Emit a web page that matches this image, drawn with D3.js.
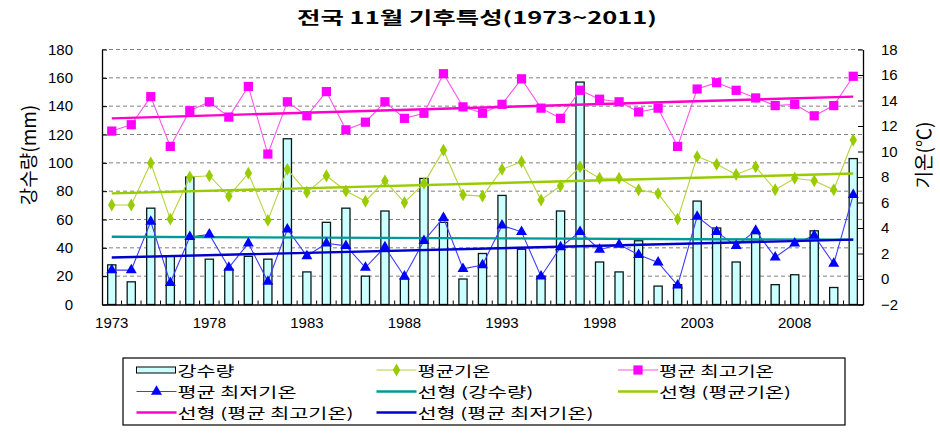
<!DOCTYPE html>
<html><head><meta charset="utf-8">
<script src="https://cdn.jsdelivr.net/npm/d3@7"></script>
<style>
html,body{margin:0;padding:0;background:#fff;}
svg{display:block;}
</style></head>
<body>
<svg id="chart" width="940" height="438"></svg>
<script>
const years = [1973,1974,1975,1976,1977,1978,1979,1980,1981,1982,1983,1984,1985,1986,1987,1988,1989,1990,1991,1992,1993,1994,1995,1996,1997,1998,1999,2000,2001,2002,2003,2004,2005,2006,2007,2008,2009,2010,2011];
const precip = [28,16,68,34,90,32,25,34,32,117,23,58,68,20,66,18,89,58,18,36,77,39,20,66,157,30,23,45,13,14,73,54,30,50,14,21,52,12,103];
const tavg = [5.8,5.8,9.1,4.7,8.0,8.1,6.5,8.3,4.6,8.6,6.8,8.1,6.9,6.1,7.7,6.0,7.5,10.1,6.6,6.5,8.6,9.2,6.2,7.3,8.8,7.9,7.9,7.0,6.7,4.7,9.6,9.0,8.2,8.8,7.0,7.9,7.7,7.0,10.9];
const tmax = [11.6,12.1,14.3,10.4,13.2,13.9,12.7,15.1,9.8,13.9,12.8,14.7,11.7,12.3,13.9,12.6,13.0,16.1,13.5,13.0,13.7,15.7,13.4,12.6,14.8,14.1,13.9,13.1,13.4,10.4,14.9,15.4,14.8,14.2,13.6,13.7,12.8,13.6,15.9];
const tmin = [0.7,0.7,4.5,-0.3,3.3,3.5,0.9,2.8,-0.2,3.9,1.8,2.8,2.6,0.9,2.5,0.2,3.0,4.8,0.8,1.1,4.2,3.7,0.2,2.5,3.7,2.3,2.7,1.9,1.3,-0.5,4.9,3.7,2.6,3.8,1.7,2.8,3.4,1.2,6.6];
const xTickLabels = [1973,1978,1983,1988,1993,1998,2003,2008];
const leftTicks = [0,20,40,60,80,100,120,140,160,180];
const rightTicks = [-2,0,2,4,6,8,10,12,14,16,18];
const titleText = "전국 11월 기후특성(1973~2011)";
const leftTitle = "강수량(mm)";
const rightTitle = "기온(℃)";
const legendLabels = ["강수량","평균기온","평균 최고기온","평균 최저기온","선형 (강수량)","선형 (평균기온)","선형 (평균 최고기온)","선형 (평균 최저기온)"];

const KFONT = "'Noto Sans CJK KR','Noto Sans',sans-serif";
const NFONT = "'Liberation Sans',Arial,sans-serif";
const C = {bar:"#CCFFFF", avg:"#99CC00", avgLine:"#B4D43A", max:"#FF00FF", maxLine:"#FF55EE",
  min:"#0000FF", minLine:"#3C3CFF", tPrecip:"#009999", tAvg:"#99CC00", tMax:"#FF00CC", tMin:"#0000CC"};

const svg = d3.select("#chart");
const L = 102, R = 863, T = 49.5, B = 304.5;

const x = d3.scaleBand().domain(years).range([L, R]).padding(0);
const cx = d => x(d) + x.bandwidth()/2;
const yL = d3.scaleLinear().domain([0,180]).range([B, T]);
const yR = d3.scaleLinear().domain([-2,18]).range([B, T]);

// gridlines
svg.append("g").selectAll("line").data(leftTicks.filter(v => v > 0)).join("line")
  .attr("x1", L).attr("x2", R).attr("y1", d => yL(d)).attr("y2", d => yL(d))
  .attr("stroke", "#808080").attr("stroke-width", 1).attr("stroke-dasharray", "4,3");

// bars
const bw = x.bandwidth()*0.42;
svg.append("g").selectAll("rect").data(years).join("rect")
  .attr("x", (d) => cx(d) - bw/2).attr("width", bw)
  .attr("y", (d,i) => yL(precip[i])).attr("height", (d,i) => B - yL(precip[i]))
  .attr("fill", C.bar).attr("stroke", "#0a1a1a").attr("stroke-width", 1.3);

// axes
const gl = svg.append("g").attr("transform", `translate(${L},0)`)
  .call(d3.axisLeft(yL).tickValues(leftTicks).tickSizeInner(-5).tickSizeOuter(0).tickPadding(29));
const gr = svg.append("g").attr("transform", `translate(${R},0)`)
  .call(d3.axisRight(yR).tickValues(rightTicks).tickSizeInner(-5).tickSizeOuter(0).tickPadding(18));
const gb = svg.append("g").attr("transform", `translate(0,${B})`)
  .call(d3.axisBottom(x).tickValues(xTickLabels).tickSize(0).tickPadding(13));
[gl,gr,gb].forEach(g => {
  g.select(".domain").attr("stroke","#000").attr("stroke-width",1.3);
  g.selectAll(".tick line").attr("stroke","#000");
  g.selectAll("text").attr("font-family", NFONT).attr("font-size", 15).attr("fill","#000");
});
// category boundary ticks
svg.append("g").selectAll("line").data(years.slice(1)).join("line")
  .attr("x1", d => x(d)).attr("x2", d => x(d)).attr("y1", B).attr("y2", B-4)
  .attr("stroke", "#000");

// series lines
const lineOf = (arr, sc) => d3.line().x((d,i) => cx(years[i])).y(d => sc(d))(arr);
svg.append("path").attr("d", lineOf(tavg, yR)).attr("fill","none").attr("stroke",C.avgLine).attr("stroke-width",1.1);
svg.append("path").attr("d", lineOf(tmax, yR)).attr("fill","none").attr("stroke",C.maxLine).attr("stroke-width",1.1);
svg.append("path").attr("d", lineOf(tmin, yR)).attr("fill","none").attr("stroke",C.minLine).attr("stroke-width",1.1);

// linear trends (least squares)
function fit(arr){
  const n = arr.length, xs = d3.range(n);
  const mx = d3.mean(xs), my = d3.mean(arr);
  let sxy=0,sxx=0; xs.forEach((xi,i)=>{sxy+=(xi-mx)*(arr[i]-my); sxx+=(xi-mx)*(xi-mx);});
  const b = sxy/sxx, a = my - b*mx;
  return [a, a + b*(n-1)];
}
function trend(arr, sc, color){
  const [v0, v1] = fit(arr);
  svg.append("line").attr("x1", cx(years[0])).attr("x2", cx(years[years.length-1]))
    .attr("y1", sc(v0)).attr("y2", sc(v1)).attr("stroke", color).attr("stroke-width", 2.4);
}
trend(precip, yL, C.tPrecip);
trend(tavg, yR, C.tAvg);
trend(tmax, yR, C.tMax);
trend(tmin, yR, C.tMin);

// markers
const diamondSym = d3.symbol().type(d3.symbolDiamond).size(48);
const square = d3.symbol().type(d3.symbolSquare).size(85);
const tri = d3.symbol().type(d3.symbolTriangle).size(52);
svg.append("g").selectAll("path").data(tavg).join("path")
  .attr("d", diamondSym)
  .attr("transform",(d,i)=>`translate(${cx(years[i])},${yR(d)})`).attr("fill",C.avg);
svg.append("g").selectAll("path").data(tmax).join("path")
  .attr("d", square).attr("transform",(d,i)=>`translate(${cx(years[i])},${yR(d)})`).attr("fill",C.max);
svg.append("g").selectAll("path").data(tmin).join("path")
  .attr("d", tri).attr("transform",(d,i)=>`translate(${cx(years[i])},${yR(d)})`).attr("fill",C.min);

// stretch helper (reference text is horizontally wide)
function fitWidth(sel, w){ sel.attr("textLength", w).attr("lengthAdjust","spacingAndGlyphs"); }

// title
const tt = svg.append("text").attr("x", 477).attr("y", 24).attr("text-anchor","middle")
  .attr("font-family", KFONT).attr("font-size", 17).attr("font-weight","bold").attr("fill","#000").text(titleText);
fitWidth(tt, 360);

// axis titles
svg.append("text").attr("transform","translate(27,155) rotate(-90)").attr("text-anchor","middle")
  .attr("dominant-baseline","central").attr("font-family",KFONT).attr("font-size",19).attr("fill","#000").text(leftTitle);
svg.append("text").attr("transform","translate(922,155) rotate(-90)").attr("text-anchor","middle")
  .attr("dominant-baseline","central").attr("font-family",KFONT).attr("font-size",19).attr("fill","#000").text(rightTitle);

// legend
svg.append("rect").attr("x",123).attr("y",358).attr("width",722).attr("height",67)
  .attr("fill","#fff").attr("stroke","#000").attr("stroke-width",1.2);
const colX = [136.5, 376.5, 618];
const rowY = [370, 391.5, 412.5];
const textW = [57, 73, 115, 119, 116, 132, 176, 176];
const legendItems = [
  {kind:"bar"}, {kind:"line", color:C.avgLine, mk:"diamond", mc:C.avg}, {kind:"line", color:C.maxLine, mk:"square", mc:C.max},
  {kind:"line", color:C.minLine, mk:"tri", mc:C.min}, {kind:"trend", color:C.tPrecip}, {kind:"trend", color:C.tAvg},
  {kind:"trend", color:C.tMax}, {kind:"trend", color:C.tMin}
];
legendItems.forEach((it, k) => {
  const col = k % 3, row = Math.floor(k/3);
  const x0 = colX[col], y0 = rowY[row], sw = 40;
  const g = svg.append("g");
  if (it.kind === "bar") {
    g.append("rect").attr("x", x0).attr("y", y0-3).attr("width", sw-1).attr("height", 6)
      .attr("fill", C.bar).attr("stroke","#000");
  } else {
    g.append("line").attr("x1",x0).attr("x2",x0+sw).attr("y1",y0).attr("y2",y0)
      .attr("stroke",it.color).attr("stroke-width", it.kind==="trend"?2.4:1.1);
    if (it.mk) {
      const sym = it.mk==="diamond" ? diamondSym : it.mk==="square" ? square : tri;
      g.append("path").attr("d", sym).attr("transform",`translate(${x0+sw/2},${y0})`).attr("fill", it.mc);
    }
  }
  const t = g.append("text").attr("x", x0+sw+1).attr("y", y0+5.5).attr("font-family",KFONT)
    .attr("font-size",14).attr("fill","#000").text(legendLabels[k]);
  fitWidth(t, textW[k]);
});
</script>
</body></html>
